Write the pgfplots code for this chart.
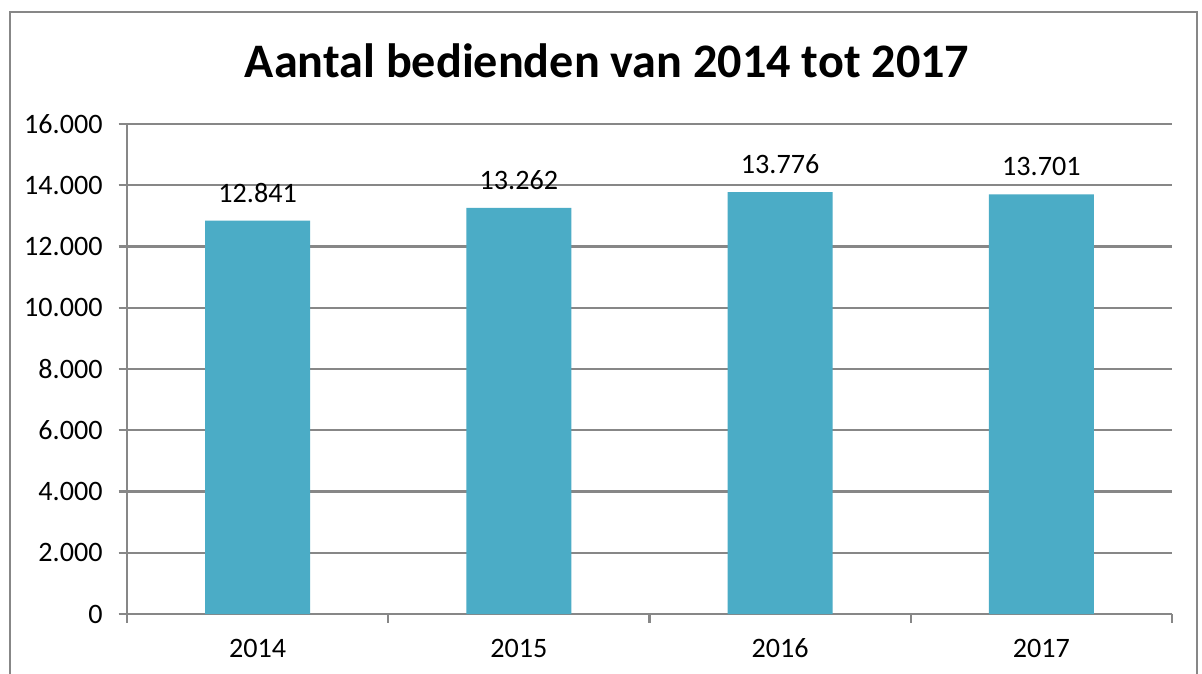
\documentclass[border=0pt]{standalone}
\usepackage{fontspec}
\setmainfont{Carlito}
\usepackage{pgfplots}
\pgfplotsset{compat=1.18}
\definecolor{barc}{HTML}{4BACC6}
\definecolor{gridc}{HTML}{878787}
\begin{document}
\begin{tikzpicture}
\path[use as bounding box, fill=white] (0,0) rectangle (12.02,6.73);
\begin{scope}
\clip (0,0) rectangle (12.02,6.73);
\draw[gridc, line width=0.6pt] (0.10,-0.5) -- (0.10,6.61) -- (11.97,6.61) -- (11.97,-0.5);
\end{scope}
\node[font=\bfseries\fontsize{13.7}{16}\selectfont, anchor=base] at (6.07,5.95) {Aantal bedienden van 2014 tot 2017};
\begin{axis}[
  at={(1.27cm,0.59cm)}, anchor=south west,
  width=10.45cm, height=4.90cm, scale only axis,
  xmin=-0.5, xmax=3.5, ymin=0, ymax=16000,
  ytick={0,2000,...,16000}, scaled y ticks=false,
  xtick={-0.5,0.5,1.5,2.5,3.5}, xticklabels={2014,2015,2016,2017},
  x tick label as interval,
  axis x line*=bottom, axis y line*=left,
  axis line style={gridc, line width=0.6pt},
  tick align=outside,
  tick style={draw=gridc, line width=0.6pt},
  major tick length=0.085cm,
  ymajorgrids, grid style={gridc, line width=0.6pt},
  /pgf/number format/.cd, 1000 sep={.}, assume math mode=true, /pgfplots/.cd,
  ticklabel style={font=\fontsize{8}{9}\selectfont},
  xticklabel style={text height=1.6ex, text depth=0pt, yshift=1.3pt},
  yticklabel style={xshift=-1pt},
  ybar, bar width=1.05cm,
  nodes near coords,
  nodes near coords style={font=\fontsize{8}{9}\selectfont, inner sep=0pt, yshift=5pt, anchor=south},
  clip=false,
]
\addplot[fill=barc, draw=none] coordinates {(0,12841) (1,13262) (2,13776) (3,13701)};
\end{axis}
\end{tikzpicture}
\end{document}
